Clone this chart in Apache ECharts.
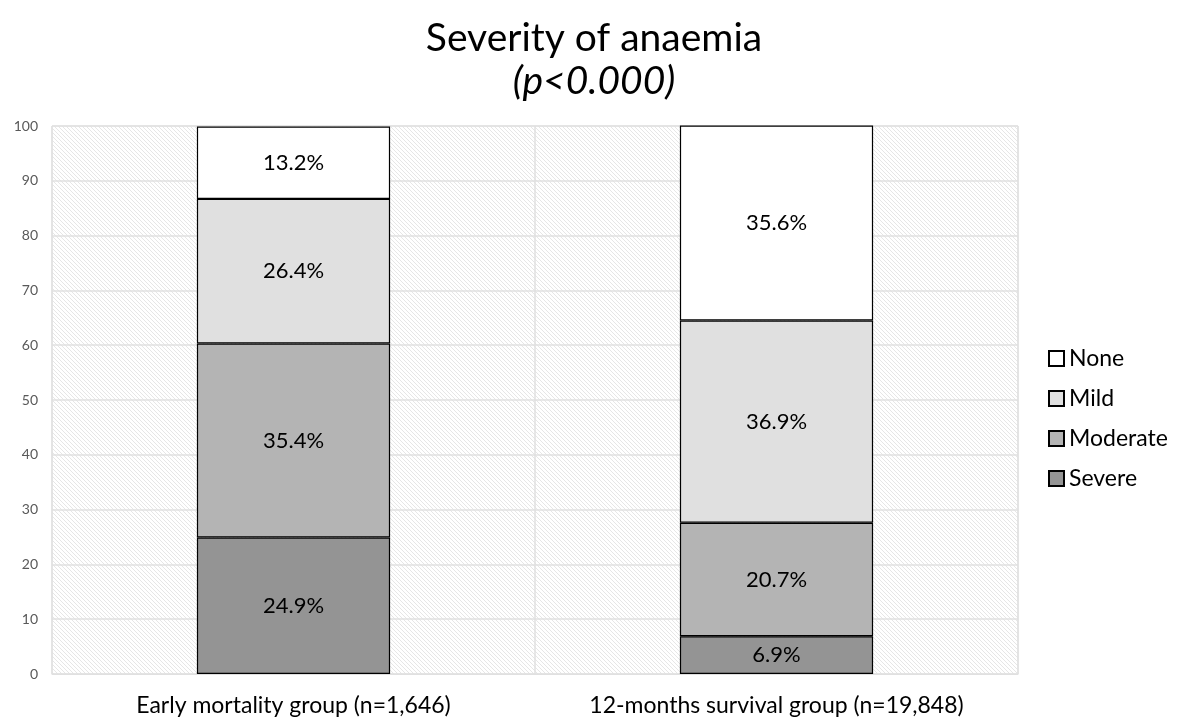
<!DOCTYPE html>
<html>
<head>
<meta charset="utf-8">
<script src="https://cdn.jsdelivr.net/npm/echarts@6/dist/echarts.min.js"></script>
<style>
  html, body { margin: 0; padding: 0; background: #fff; }
  #chart { width: 1188px; height: 725px; }
</style>
</head>
<body>
<div id="chart"></div>
<script>
// Groups compared along the x axis
const categories = ['Early mortality group (n=1,646)', '12-months survival group (n=19,848)'];
// Share of each anaemia grade per group (%)
const severe = [24.9, 6.9];
const moderate = [35.4, 20.7];
const mild = [26.4, 36.9];
const none = [13.2, 35.6];
const yTicks = [0, 10, 20, 30, 40, 50, 60, 70, 80, 90, 100];

// Diagonal hatch for the plot background
function hatchPattern() {
  const s = 4;
  const c = document.createElement('canvas');
  c.width = s; c.height = s;
  const ctx = c.getContext('2d');
  ctx.fillStyle = '#ffffff';
  ctx.fillRect(0, 0, s, s);
  ctx.strokeStyle = '#e6e6e6';
  ctx.lineWidth = 1;
  ctx.beginPath();
  ctx.moveTo(-1, -1); ctx.lineTo(s + 1, s + 1);
  ctx.moveTo(-1, s - 1); ctx.lineTo(1, s + 1);
  ctx.moveTo(s - 1, -1); ctx.lineTo(s + 1, 1);
  ctx.stroke();
  return { image: c, repeat: 'repeat' };
}

const font = 'Lato, "Open Sans", sans-serif';

function seg(name, data, color) {
  return {
    name: name,
    type: 'bar',
    stack: 'total',
    data: data,
    barWidth: '40%',
    itemStyle: { color: color, borderColor: '#000', borderWidth: 1.2 },
    label: {
      show: true,
      position: 'inside',
      formatter: p => p.value.toFixed(1) + '%',
      color: '#000',
      fontSize: 22,
      fontFamily: font
    },
    emphasis: { disabled: true }
  };
}

const chart = echarts.init(document.getElementById('chart'), null, { renderer: 'canvas' });
chart.setOption({
  animation: false,
  backgroundColor: '#fff',
  title: {
    text: 'Severity of anaemia',
    subtext: '(p<0.000)',
    left: 'center',
    top: 14,
    itemGap: 4,
    textStyle: { fontSize: 39, fontWeight: 'normal', color: '#000', fontFamily: font },
    subtextStyle: { fontSize: 39, fontStyle: 'italic', color: '#000', fontFamily: font }
  },
  legend: {
    orient: 'vertical',
    left: 1043,
    top: 342,
    itemGap: 17,
    itemWidth: 15,
    itemHeight: 15,
    icon: 'rect',
    data: ['None', 'Mild', 'Moderate', 'Severe'],
    textStyle: { fontSize: 23, color: '#000', fontFamily: font, padding: [0, 0, 0, 0] },
    selectedMode: false
  },
  grid: {
    left: 52,
    right: 170,
    top: 126,
    bottom: 51,
    show: true,
    backgroundColor: hatchPattern(),
    borderColor: '#e0e0e0',
    borderWidth: 1
  },
  xAxis: {
    type: 'category',
    data: categories,
    axisLine: { show: true, lineStyle: { color: '#e0e0e0' } },
    axisTick: { show: false },
    splitLine: { show: true, lineStyle: { color: '#e0e0e0', width: 1.5 } },
    axisLabel: { interval: 0, fontSize: 23, color: '#000', fontFamily: font, margin: 20 }
  },
  yAxis: {
    type: 'value',
    min: yTicks[0],
    max: yTicks[yTicks.length - 1],
    interval: 10,
    axisLine: { show: false },
    axisTick: { show: false },
    splitLine: { lineStyle: { color: '#e0e0e0', width: 1.5 } },
    axisLabel: { fontSize: 14, color: '#595959', fontFamily: font, margin: 14 }
  },
  series: [
    seg('Severe', severe, '#949494'),
    seg('Moderate', moderate, '#b4b4b4'),
    seg('Mild', mild, '#e0e0e0'),
    seg('None', none, '#ffffff')
  ]
});
</script>
</body>
</html>
